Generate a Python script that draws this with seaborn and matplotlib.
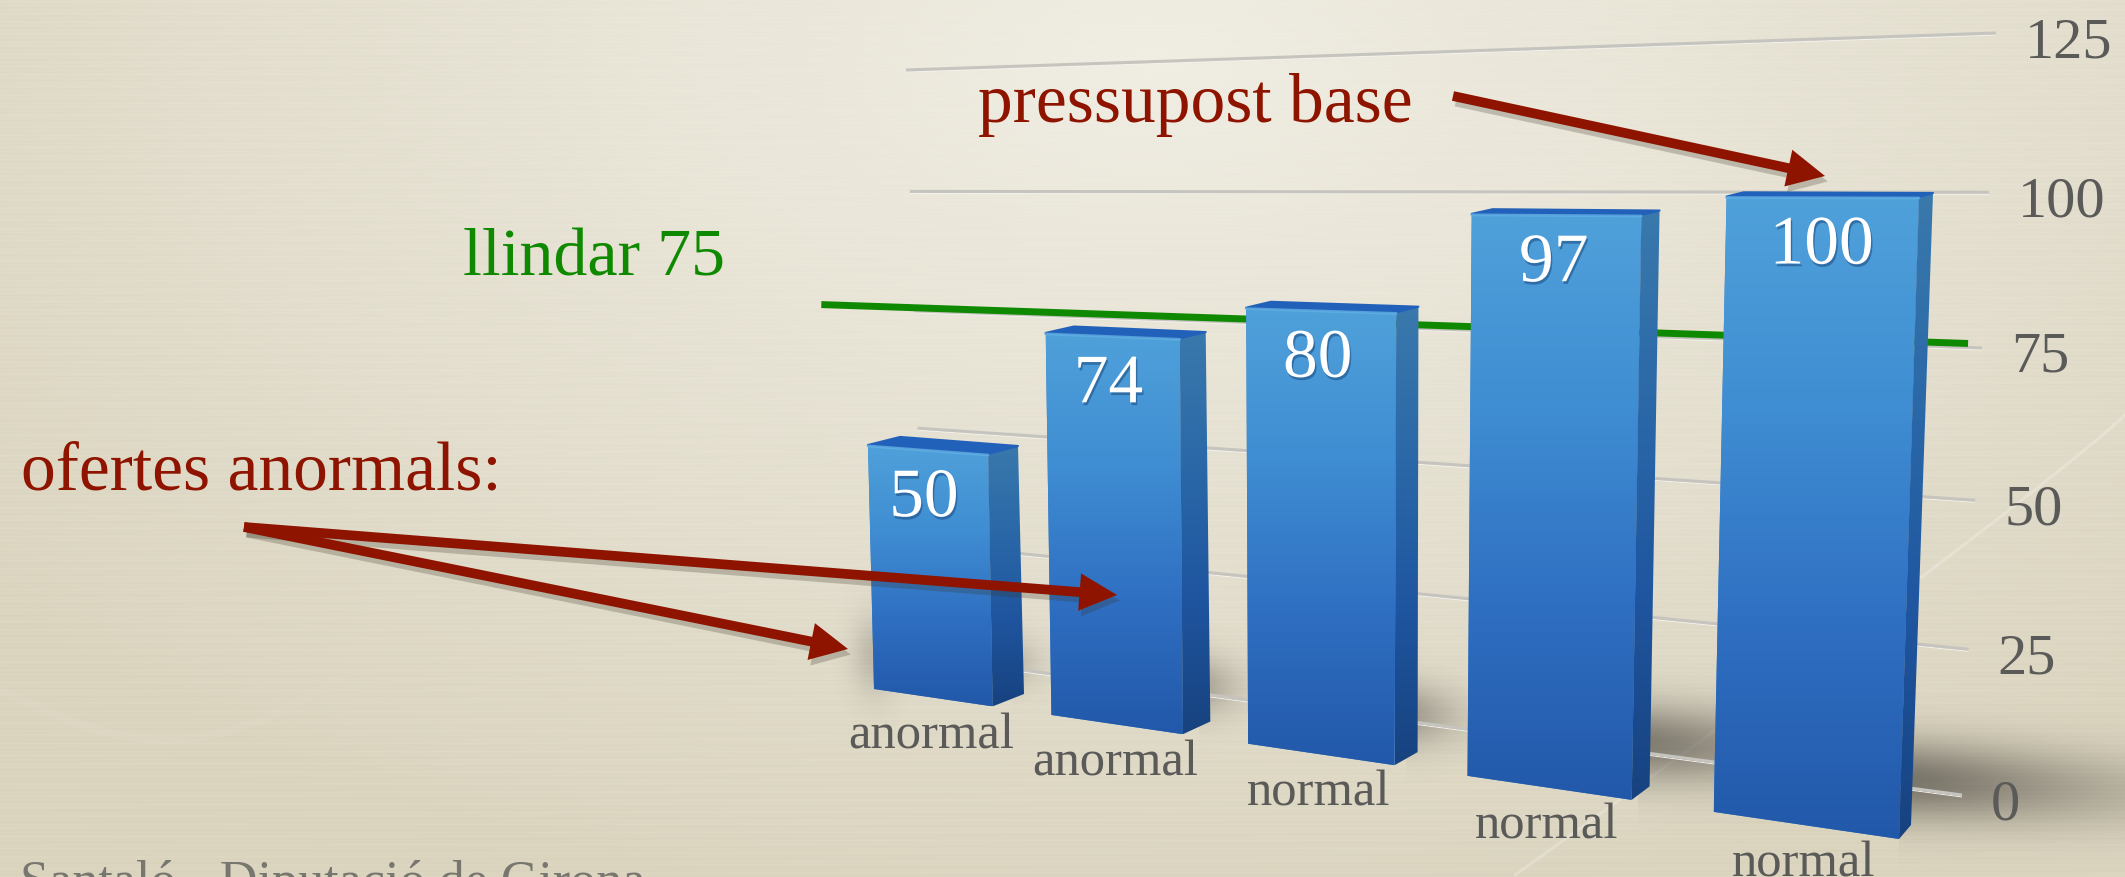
import numpy as np
import pandas as pd
import seaborn as sns
import matplotlib
matplotlib.use('Agg')
import matplotlib.pyplot as plt
import matplotlib.patheffects as pe
from matplotlib.colors import LinearSegmentedColormap
from matplotlib.patches import Polygon
from matplotlib.transforms import Transform

W, H = 2125, 877

offer_ids = ['oferta 1', 'oferta 2', 'oferta 3', 'oferta 4', 'oferta 5']
offer_values = [50, 74, 80, 97, 100]
offer_types = ['anormal', 'anormal', 'normal', 'normal', 'normal']
axis_ticks = [0, 25, 50, 75, 100, 125]
threshold = 75

RED = '#8E1400'
GREEN = '#0F8A00'
GREY = '#5A5A58'
BAR_W = 0.68


class Projection(Transform):
    # chart plane (category, value) to picture pixels
    input_dims = 2
    output_dims = 2
    is_separable = False

    def __init__(self, src, dst):
        super().__init__()
        A, b = [], []
        for (x, y), (u, v) in zip(src, dst):
            A.append([x, y, 1, 0, 0, 0, -u * x, -u * y])
            A.append([0, 0, 0, x, y, 1, -v * x, -v * y])
            b += [u, v]
        self.m = np.append(np.linalg.solve(np.array(A, float), np.array(b, float)), 1).reshape(3, 3)

    def transform_non_affine(self, pts):
        pts = np.asarray(pts, float)
        q = np.c_[pts, np.ones(len(pts))] @ self.m.T
        return q[:, :2] / q[:, 2:]

    def at(self, x, y):
        return self.transform_non_affine([[x, y]])[0]


xl, xr = -BAR_W / 2, 4 + BAR_W / 2
front = Projection([(xl, 0), (xl, 50), (xr, 0), (xr, 100)],
                   [(874, 689), (868, 445), (1899, 839), (1919, 197)])
back = Projection([(BAR_W / 2, 0), (BAR_W / 2, 50), (xr, 0), (xr, 100)],
                  [(1024, 694), (1018, 446), (1911, 825), (1933, 193)])
wall = Projection([(-0.5, 0), (4.5, 0), (4.5, 125), (-0.5, 125)],
                  [(925, 657), (1962, 795), (1996, 33), (906, 70)])

sns.set_theme(style='white')
plt.rcParams['font.family'] = ['Liberation Serif', 'DejaVu Sans']

fig, ax = plt.subplots(figsize=(W / 100, H / 100), dpi=100)
ax.set_position([0, 0, 1, 1])

df = pd.DataFrame({'oferta': offer_ids, 'valor': offer_values})
sns.barplot(data=df, x='oferta', y='valor', color='#3A80CB', saturation=1, width=BAR_W, ax=ax, zorder=5)
bars = list(ax.patches)

# paper background
yy, xx = np.mgrid[0:H, 0:W]
r = np.sqrt(((xx - 1150) / 1500.0) ** 2 + ((yy - 60) / 850.0) ** 2)
r = np.clip(r, 0, 1)[..., None]
paper = (1 - r) * np.array([240, 237, 227]) + r * np.array([219, 213, 192])
paper += (0.9 * np.sin(yy * 1.55) + 0.7 * np.sin(yy * 0.61 + xx * 0.004))[..., None] * (0.4 + r)
ax.imshow(np.clip(paper, 0, 255).astype(np.uint8), extent=(0, W, H, 0), aspect='auto', zorder=0)

# faint light streaks of the paper
t = np.linspace(0, 1, 60)
ax.plot(2125 - 610 * t, 415 + 460 * t ** 0.95, color='white', alpha=0.22, lw=2.2, zorder=1)
ax.plot(0 + 340 * t, 690 + 60 * np.sin(t * 3.0) - 20 * t, color='white', alpha=0.04, lw=6, zorder=1)

# floor shadows, bigger for taller bars
shadow = np.zeros((H, W, 4))
shadow[..., :3] = np.array([62, 58, 52]) / 255.0
alpha = np.zeros((H, W))
for i, v in enumerate(offer_values):
    bx, by = back.at(i + BAR_W / 2, 0)
    k = (v / 100.0) ** 3
    d = (yy - (by - 30 - 15 * k + 0.05 * (xx - bx))) / (24 + 16 * k)
    e = np.clip(xx - bx + 12, 0, None) / (28 + 200 * k ** 3)
    a = (0.16 + 0.46 * k) * np.exp(-d ** 2 - e ** 1.6)
    a[xx < bx - 12] = 0
    alpha = np.maximum(alpha, a)
# soft spot left of the first bar
fx, fy = front.at(-BAR_W / 2, 0)
alpha = np.maximum(alpha, 0.22 * np.exp(-((xx - fx) / 22.0) ** 2 - ((yy - fy + 35) / 40.0) ** 2))
shadow[..., 3] = alpha
ax.imshow(shadow, extent=(0, W, H, 0), aspect='auto', zorder=2)

# grid on the back wall
for tick in axis_ticks:
    a = wall.at(-0.5, tick)
    b = wall.at(4.5, tick)
    ax.plot([a[0], b[0]], [a[1] + 2, b[1] + 2], color='#F4F3EE', lw=0.7, zorder=3, solid_capstyle='butt')
    ax.plot([a[0], b[0]], [a[1], b[1]], color='#C6C4BE', lw=2.2, zorder=3, solid_capstyle='butt')
    ax.text(b[0] + 29, b[1] + 10, str(tick), fontsize=42, color=GREY, ha='left', va='center', zorder=9)

# threshold line, runs a bit further left than the grid
a = wall.at(-1.08, threshold)
b = wall.at(4.45, threshold)
ax.plot([a[0], b[0]], [a[1] - 3, b[1] - 4], color=GREEN, lw=5, zorder=4, solid_capstyle='butt')

face_cmap = LinearSegmentedColormap.from_list('face', ['#4FA1DA', '#3F8DD2', '#2F6FC2', '#2258A9'])
side_cmap = LinearSegmentedColormap.from_list('side', ['#3A79AC', '#2A68A8', '#1F559F', '#17427F'])
grad = np.linspace(0, 1, 256)[:, None]


def shaded(pts, cmap, z):
    pts = np.array(pts)
    x0, y0 = pts.min(axis=0)
    x1, y1 = pts.max(axis=0)
    im = ax.imshow(grad, cmap=cmap, extent=(x0, x1, y1, y0), aspect='auto', zorder=z, vmin=0, vmax=1)
    clip = Polygon(pts, closed=True, transform=ax.transData)
    im.set_clip_path(clip)


for i, bar in enumerate(bars):
    x0 = bar.get_x()
    x1 = x0 + bar.get_width()
    v = bar.get_height()
    bar.set_transform(front + ax.transData)
    bar.set_clip_on(False)
    bar.set_linewidth(0)

    fl0, fr0 = front.at(x0, 0), front.at(x1, 0)
    fl1, fr1 = front.at(x0, v), front.at(x1, v)
    bl1, br1 = back.at(x0, v), back.at(x1, v)
    br0 = back.at(x1, 0)

    shaded([fl0, fr0, fr1, fl1], face_cmap, 6)
    shaded([fr0, br0, br1, fr1], side_cmap, 6)
    ax.add_patch(Polygon([fl1, fr1, br1, bl1], closed=True, facecolor='#2261BA', edgecolor='#2261BA',
                         lw=1.5, joinstyle='round', zorder=7))
    ax.plot([fl1[0], fr1[0]], [fl1[1] + 1, fr1[1] + 1], color='#62B0E4', lw=2, alpha=0.8, zorder=7)

    # value on the face of the bar
    lx, ly = front.at(i, v)
    ax.text(lx + [-3, -3, -2, -1, 1][i], ly + 50, str(int(v)), fontsize=50, color='white', ha='center', va='center',
            zorder=8, path_effects=[pe.withSimplePatchShadow(offset=(1, -2), shadow_rgbFace='#1C4A80', alpha=0.55)])

    # category under the bar
    cx, cy = front.at(i, 0)
    ax.text(cx - 1, cy + 39, offer_types[i], fontsize=36.5, color=GREY, ha='center', va='center', zorder=9)


def arrow(start, tip):
    ax.annotate('', xy=tip, xytext=start, zorder=12,
                arrowprops=dict(arrowstyle='simple,head_length=27,head_width=27,tail_width=7', mutation_scale=1,
                                color=RED, lw=0, shrinkA=0, shrinkB=0,
                                path_effects=[pe.SimplePatchShadow(offset=(2, -4), shadow_rgbFace='#3A3428', alpha=0.25),
                                              pe.Normal()]))


arrow((1453, 96), (1825, 176))
arrow((244, 527), (1117, 595))
arrow((244, 527), (848, 649))

ax.text(978, 122, 'pressupost base', fontsize=50, color=RED, ha='left', va='baseline', zorder=12)
ax.text(463, 276, 'llindar 75', fontsize=49, color=GREEN, ha='left', va='baseline', zorder=12)
ax.text(21, 490, 'ofertes anormals:', fontsize=50, color=RED, ha='left', va='baseline', zorder=12)
ax.text(20, 897, 'Santaló - Diputació de Girona', fontsize=37.5, color='#77766F', ha='left', va='baseline', zorder=12)

ax.set_xlim(0, W)
ax.set_ylim(H, 0)
ax.set_axis_off()

fig.savefig('out.png', dpi=100)
